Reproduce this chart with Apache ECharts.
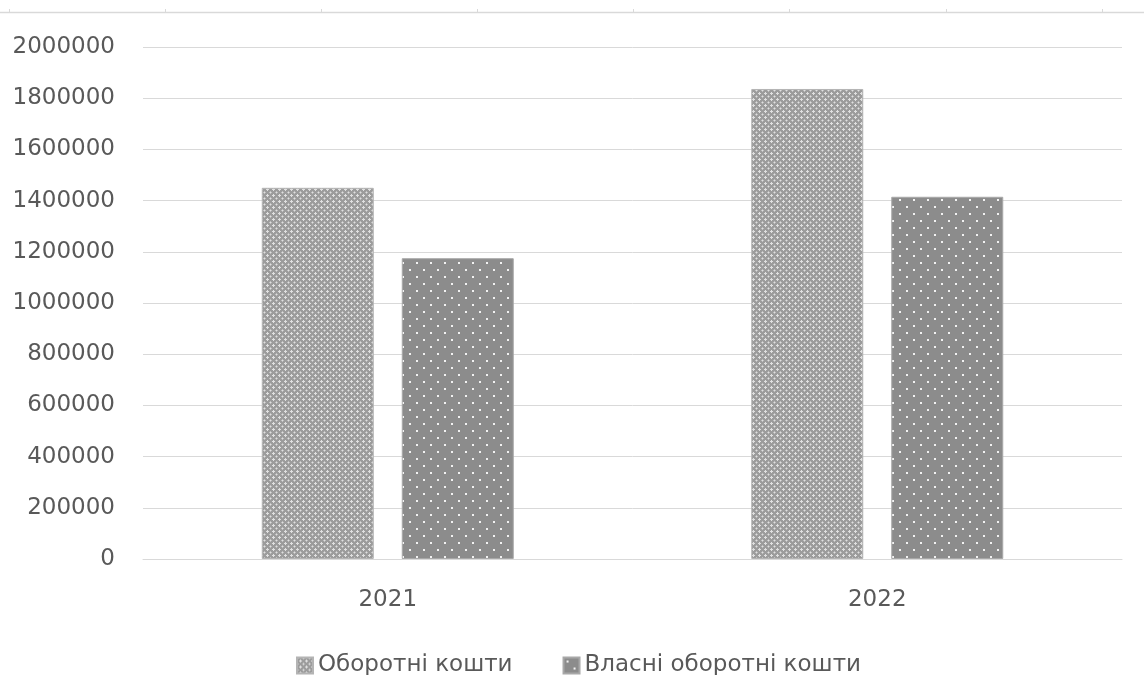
<!DOCTYPE html>
<html>
<head>
<meta charset="utf-8">
<script src="https://cdn.jsdelivr.net/npm/echarts@6/dist/echarts.min.js"></script>
<style>
  html, body { margin: 0; padding: 0; background: #ffffff; }
  #chart { width: 1144px; height: 675px; }
</style>
</head>
<body>
<div id="chart"></div>
<script>
// Chart data
const years = ['2021', '2022'];
const workingCapital = [1450000, 1836000];      // Оборотні кошти
const ownWorkingCapital = [1175000, 1415000];   // Власні оборотні кошти
const seriesNames = ['Оборотні кошти', 'Власні оборотні кошти'];
const yTicks = { min: 0, max: 2000000, interval: 200000 };

const FONT = 'DejaVu Sans';
const TEXT = '#595959';
const GRID = '#d9d9d9';

// Diamond-lattice fill for the first series
function latticeTile() {
  const c = document.createElement('canvas');
  c.width = 6; c.height = 6;
  const g = c.getContext('2d');
  g.fillStyle = '#9c9c9c';
  g.fillRect(0, 0, 6, 6);
  g.fillStyle = '#e0e0e0';
  [[3,2],[2,3],[3,3],[4,3],[3,4],[0,0]].forEach(p => g.fillRect(p[0], p[1], 1, 1));
  g.fillStyle = '#c0c0c0';
  [[1,0],[0,1],[5,0],[0,5]].forEach(p => g.fillRect(p[0], p[1], 1, 1));
  return c;
}

// Staggered white dots on dark grey for the second series
function dotTile() {
  const c = document.createElement('canvas');
  c.width = 14; c.height = 14;
  const g = c.getContext('2d');
  g.fillStyle = '#8c8c8c';
  g.fillRect(0, 0, 14, 14);
  g.fillStyle = '#f2f2f2';
  g.fillRect(3, 3, 2, 2);
  g.fillRect(10, 10, 2, 2);
  return c;
}

const chart = echarts.init(document.getElementById('chart'), null, { renderer: 'canvas' });

chart.setOption({
  backgroundColor: '#ffffff',
  animation: false,
  textStyle: { fontFamily: FONT },
  grid: [
    { left: 143, right: 22, top: 47, bottom: 116, containLabel: false, outerBoundsMode: 'none' },
    { left: 9, right: 42, top: 11, height: 1, containLabel: false, outerBoundsMode: 'none' }
  ],
  xAxis: [
    {
      type: 'category',
      gridIndex: 0,
      data: years,
      axisLine: { lineStyle: { color: GRID, width: 1 } },
      axisTick: { show: false },
      axisLabel: { color: TEXT, fontSize: 23, fontFamily: FONT, margin: 30 }
    },
    {
      type: 'category',
      gridIndex: 1,
      data: ['', '', '', '', '', '', ''],
      boundaryGap: true,
      axisLine: { show: false },
      axisTick: { show: true, inside: true, length: 3, lineStyle: { color: GRID } },
      axisLabel: { show: false }
    }
  ],
  yAxis: [
    {
      type: 'value',
      gridIndex: 0,
      min: yTicks.min,
      max: yTicks.max,
      interval: yTicks.interval,
      axisLine: { show: false },
      axisTick: { show: false },
      splitLine: { lineStyle: { color: GRID, width: 1 } },
      axisLabel: {
        color: TEXT, fontSize: 23, fontFamily: FONT, margin: 28,
        formatter: v => String(v)
      }
    },
    {
      type: 'value',
      gridIndex: 1,
      show: false
    }
  ],
  legend: {
    left: 296,
    top: 654,
    padding: 0,
    itemWidth: 16,
    itemHeight: 16,
    itemGap: 50,
    icon: 'rect',
    textStyle: { color: TEXT, fontSize: 23, fontFamily: FONT },
    data: seriesNames
  },
  graphic: [
    {
      type: 'line',
      shape: { x1: 0, y1: 12.5, x2: 1144, y2: 12.5 },
      style: { stroke: GRID, lineWidth: 1.5 },
      silent: true
    }
  ],
  series: [
    {
      name: seriesNames[0],
      type: 'bar',
      xAxisIndex: 0,
      yAxisIndex: 0,
      data: workingCapital,
      barWidth: 112,
      barGap: '25%',
      itemStyle: {
        color: { image: latticeTile(), repeat: 'repeat' },
        borderColor: '#b4b4b4',
        borderWidth: 1
      }
    },
    {
      name: seriesNames[1],
      type: 'bar',
      xAxisIndex: 0,
      yAxisIndex: 0,
      data: ownWorkingCapital,
      barWidth: 112,
      barGap: '25%',
      itemStyle: {
        color: { image: dotTile(), repeat: 'repeat' },
        borderColor: '#a8a8a8',
        borderWidth: 1
      }
    }
  ]
});
</script>
</body>
</html>
